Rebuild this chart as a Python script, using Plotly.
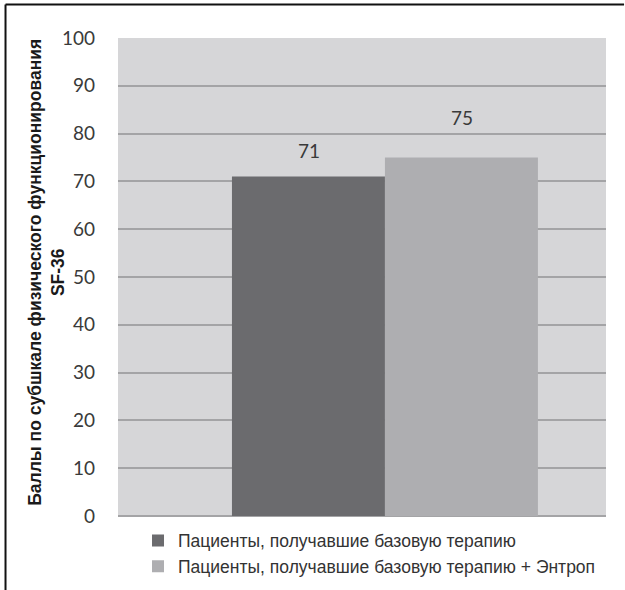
import plotly.graph_objects as go

# Data
series_names = [
    "Пациенты, получавшие базовую терапию",
    "Пациенты, получавшие базовую терапию + Энтроп",
]
series_values = [71, 75]
series_colors = ["#6b6b6e", "#aeaeb1"]
category = [""]
y_ticks = [0, 10, 20, 30, 40, 50, 60, 70, 80, 90, 100]
y_title = "Баллы по субшкале физического функционирования<br>SF-36"

NARROW = "Liberation Sans Narrow, Arial Narrow, Liberation Sans, sans-serif"
TICKFONT = "Lato, Carlito, Calibri, sans-serif"

fig = go.Figure()
for name, val, col in zip(series_names, series_values, series_colors):
    fig.add_trace(go.Bar(
        x=category,
        y=[val],
        name=name,
        marker=dict(color=col, line=dict(width=0)),
    ))

# Value labels above bars (each label lifted by its own offset)
offsets = [-0.1565, 0.157]
lifts = [13, 27]
for val, dx, lift in zip(series_values, offsets, lifts):
    fig.add_annotation(
        x=dx, y=val, xref="x", yref="y",
        text=str(val), showarrow=False,
        yanchor="bottom", yshift=lift,
        font=dict(family=TICKFONT, size=19, color="#3a3a3a"),
    )

# Rotated two-line axis title
fig.add_annotation(
    x=-0.1465, y=0.51, xref="paper", yref="paper",
    text="<b>" + y_title + "</b>", showarrow=False,
    textangle=-90, xanchor="center", yanchor="middle",
    font=dict(family=NARROW, size=17.5, color="#1a1a1a"),
)

fig.update_layout(
    width=625,
    height=590,
    margin=dict(l=118, r=19, t=38, b=74, autoexpand=False),
    paper_bgcolor="white",
    plot_bgcolor="#d6d6d8",
    barmode="group",
    bargap=0.373,
    bargroupgap=0,
    showlegend=True,
    legend=dict(
        orientation="v",
        x=0.041, xanchor="left",
        y=-0.014, yanchor="top",
        font=dict(family=NARROW, size=17.5, color="#333333"),
        bgcolor="rgba(0,0,0,0)",
        traceorder="normal",
        itemwidth=30,
    ),
    xaxis=dict(
        type="category",
        range=[-0.547, 0.453],
        showticklabels=False,
        showgrid=False,
        zeroline=False,
        showline=False,
        fixedrange=True,
    ),
    yaxis=dict(
        range=[0, 100],
        tickvals=y_ticks,
        ticktext=[str(v) for v in y_ticks],
        tickfont=dict(family=TICKFONT, size=19, color="#3a3a3a"),
        ticklabelstandoff=22,
        showgrid=True,
        gridcolor="#a4a4a6",
        gridwidth=1.5,
        zeroline=True,
        zerolinecolor="#a4a4a6",
        zerolinewidth=1.5,
        showline=False,
    ),
)

# Outer frame (left and top edges)
fig.add_shape(type="line", xref="paper", yref="paper",
              x0=-0.2305, x1=1.037, y0=1.0701, y1=1.0701,
              line=dict(color="#111111", width=2))
fig.add_shape(type="line", xref="paper", yref="paper",
              x0=-0.2305, x1=-0.2305, y0=1.0701, y1=-0.16,
              line=dict(color="#111111", width=2))

fig.write_html("out.html")
